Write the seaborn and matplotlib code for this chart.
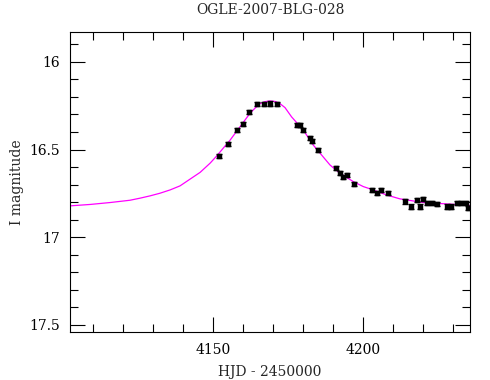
import matplotlib
matplotlib.use("Agg")
import matplotlib.pyplot as plt
from matplotlib.ticker import MultipleLocator
import seaborn as sns
import pandas as pd

# model light curve
model_hjd = [4102.2, 4108.9, 4115.6, 4122.2, 4125.6, 4128.9, 4132.2, 4135.6,
             4138.9, 4142.2, 4145.6, 4148.9, 4151.1, 4153.9, 4155.6, 4158.9,
             4162.2, 4163.9, 4165.6, 4167.2, 4168.9, 4170.6, 4172.2, 4173.9,
             4176.1, 4180.0, 4183.3, 4186.1, 4188.9, 4192.2, 4196.7, 4200.0,
             4203.3, 4207.8, 4212.2, 4220.0, 4228.9, 4235.6]
model_mag = [16.821, 16.813, 16.802, 16.789, 16.777, 16.764, 16.749, 16.730,
             16.707, 16.669, 16.630, 16.578, 16.537, 16.480, 16.446, 16.370,
             16.294, 16.264, 16.238, 16.227, 16.223, 16.226, 16.238, 16.261,
             16.314, 16.389, 16.474, 16.531, 16.588, 16.635, 16.683, 16.711,
             16.730, 16.759, 16.781, 16.802, 16.811, 16.819]

# OGLE photometry
obs_hjd = [4151.9, 4155.0, 4157.8, 4160.0, 4162.0, 4164.7, 4166.9, 4168.9,
           4171.1, 4177.8, 4179.0, 4180.0, 4182.2, 4183.0, 4184.8, 4190.9,
           4192.2, 4193.3, 4194.7, 4196.9, 4202.8, 4204.5, 4205.8, 4208.3,
           4213.9, 4215.8, 4217.8, 4218.9, 4219.8, 4221.1, 4222.8, 4224.7,
           4227.8, 4229.1, 4231.1, 4232.5, 4234.2, 4235.0]
obs_mag = [16.537, 16.469, 16.387, 16.355, 16.285, 16.241, 16.241, 16.238,
           16.241, 16.361, 16.361, 16.389, 16.433, 16.450, 16.503, 16.607,
           16.635, 16.658, 16.645, 16.698, 16.730, 16.749, 16.730, 16.749,
           16.796, 16.825, 16.787, 16.825, 16.781, 16.806, 16.806, 16.811,
           16.825, 16.825, 16.806, 16.806, 16.806, 16.834]
obs_err = [0.012] * len(obs_hjd)

sns.set_style("ticks")
plt.rcParams['font.family'] = ['DejaVu Serif']

fig = plt.figure(figsize=(4.9, 3.8), dpi=100)
ax = fig.add_axes([0.1429, 0.1263, 0.8163, 0.7895])

model = pd.DataFrame({"hjd": model_hjd, "mag": model_mag})
sns.lineplot(data=model, x="hjd", y="mag", color="magenta", lw=0.9,
             ax=ax, sort=False, estimator=None)
ax.errorbar(obs_hjd, obs_mag, yerr=obs_err, fmt="s", ms=3.0, color="black",
            ecolor="black", elinewidth=1.0, capsize=2.2, capthick=1.0, zorder=3)

ax.set_xlim(4102.2, 4235.6)
ax.set_ylim(17.54, 15.83)
ax.xaxis.set_major_locator(MultipleLocator(50))
ax.xaxis.set_minor_locator(MultipleLocator(10))
ax.yaxis.set_major_locator(MultipleLocator(0.5))
ax.yaxis.set_minor_locator(MultipleLocator(0.1))
ax.yaxis.set_major_formatter(plt.FuncFormatter(lambda v, p: f"{v:g}"))
ax.tick_params(which="both", direction="in", top=True, right=True,
               width=0.8, labelsize=10, colors="black")
ax.tick_params(which="major", length=11, pad=8)
ax.tick_params(which="minor", length=5.5)
ax.tick_params(axis="y", which="major", pad=7)
for s in ax.spines.values():
    s.set_linewidth(0.8)
    s.set_color("black")

ax.set_xlabel("HJD - 2450000", fontsize=10, labelpad=6)
ax.set_ylabel("I magnitude", fontsize=10, labelpad=4)
ax.set_title("OGLE-2007-BLG-028", fontsize=10, pad=13)

fig.savefig("out.png", dpi=100)
